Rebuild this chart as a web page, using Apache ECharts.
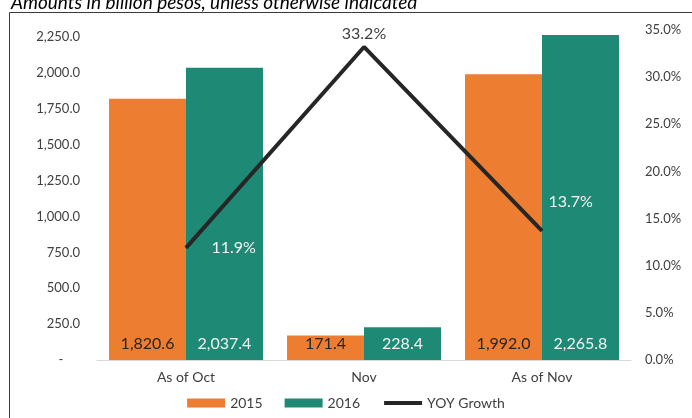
<!doctype html>
<html>
    <head>
        <meta charset="utf-8">
        <title>Amounts in billion pesos</title>
        <style>
            html, body { margin: 0; padding: 0; background: #fff; }
            #main { width: 692px; height: 418px; }
        </style>
    </head>
    <body>
        <div id="main"></div>
        <script src="https://cdn.jsdelivr.net/npm/echarts@6/dist/echarts.min.js"></script>
        <script>
            var categories = ['As of Oct', 'Nov', 'As of Nov'];
            var values2015 = [1820.6, 171.4, 1992.0];
            var values2016 = [2037.4, 228.4, 2265.8];
            var yoyGrowth = [11.9, 33.2, 13.7];

            var font = 'Lato, "Open Sans", sans-serif';

            function fmtAmount(v) {
                return v.toLocaleString('en-US', {minimumFractionDigits: 1, maximumFractionDigits: 1});
            }

            var chart = echarts.init(document.getElementById('main'), null, {
                devicePixelRatio: 1
            });

            chart.setOption({
                animation: false,
                backgroundColor: '#fff',
                textStyle: { fontFamily: font },
                title: {
                    text: 'Amounts in billion pesos, unless otherwise indicated',
                    left: 6,
                    top: -12,
                    textStyle: {
                        fontFamily: font,
                        fontStyle: 'italic',
                        fontWeight: 'normal',
                        fontSize: 19,
                        color: '#000'
                    }
                },
                graphic: [{
                    type: 'rect',
                    shape: { x: 9.5, y: 12.5, width: 700, height: 430 },
                    style: { fill: 'none', stroke: '#3a3a3a', lineWidth: 1 },
                    silent: true
                }],
                grid: {
                    left: 97,
                    right: 61,
                    top: 30,
                    bottom: 58
                },
                legend: {
                    bottom: 3,
                    left: 'center',
                    itemWidth: 38,
                    itemHeight: 9,
                    itemGap: 22,
                    textStyle: { fontFamily: font, fontSize: 14, color: '#404040' },
                    data: [
                        { name: '2015', icon: 'rect' },
                        { name: '2016', icon: 'rect' },
                        { name: 'YOY Growth', itemStyle: { opacity: 0 }, lineStyle: { width: 4 } }
                    ]
                },
                xAxis: {
                    type: 'category',
                    data: categories,
                    axisLine: { lineStyle: { color: '#d9d9d9', width: 1 } },
                    axisTick: { show: false },
                    axisLabel: {
                        fontFamily: font,
                        fontSize: 14,
                        color: '#404040',
                        margin: 10
                    }
                },
                yAxis: [{
                    type: 'value',
                    min: 0,
                    max: 2300,
                    interval: 250,
                    axisLine: { show: false },
                    axisTick: { show: false },
                    splitLine: { show: false },
                    axisLabel: {
                        fontFamily: font,
                        fontSize: 13,
                        color: '#404040',
                        margin: 17,
                        formatter: function (v) {
                            if (v === 0) return '-     ';
                            if (v % 250 !== 0) return '';
                            return fmtAmount(v);
                        }
                    }
                }, {
                    type: 'value',
                    min: 0,
                    max: 35,
                    interval: 5,
                    axisLine: { show: false },
                    axisTick: { show: false },
                    splitLine: { show: false },
                    axisLabel: {
                        fontFamily: font,
                        fontSize: 13,
                        color: '#404040',
                        margin: 14,
                        formatter: function (v) {
                            return v.toFixed(1) + '%';
                        }
                    }
                }],
                series: [{
                    name: '2015',
                    type: 'bar',
                    data: values2015,
                    barGap: '0%',
                    barCategoryGap: '13.5%',
                    itemStyle: { color: '#ED7D31' },
                    label: {
                        show: true,
                        position: 'insideBottom',
                        distance: 8,
                        fontFamily: font,
                        fontSize: 16,
                        color: '#262626',
                        formatter: function (p) { return fmtAmount(p.value); }
                    }
                }, {
                    name: '2016',
                    type: 'bar',
                    data: values2016,
                    itemStyle: { color: '#1E8A76' },
                    label: {
                        show: true,
                        position: 'insideBottom',
                        distance: 8,
                        fontFamily: font,
                        fontSize: 16,
                        color: '#f2f2f2',
                        formatter: function (p) { return fmtAmount(p.value); }
                    }
                }, {
                    name: 'YOY Growth',
                    type: 'line',
                    yAxisIndex: 1,
                    symbol: 'circle',
                    symbolSize: 1,
                    itemStyle: { color: '#262626' },
                    lineStyle: { color: '#262626', width: 4 },
                    label: {
                        show: true,
                        fontFamily: font,
                        fontSize: 16,
                        formatter: function (p) { return p.value.toFixed(1) + '%'; }
                    },
                    data: [{
                        value: yoyGrowth[0],
                        label: { position: 'right', distance: 25, color: '#f2f2f2' }
                    }, {
                        value: yoyGrowth[1],
                        label: { position: 'top', distance: 5, color: '#404040' }
                    }, {
                        value: yoyGrowth[2],
                        label: { position: 'right', distance: 6, offset: [0, -29], color: '#f2f2f2' }
                    }]
                }]
            });

            window.onresize = chart.resize;
        </script>
    </body>
</html>
